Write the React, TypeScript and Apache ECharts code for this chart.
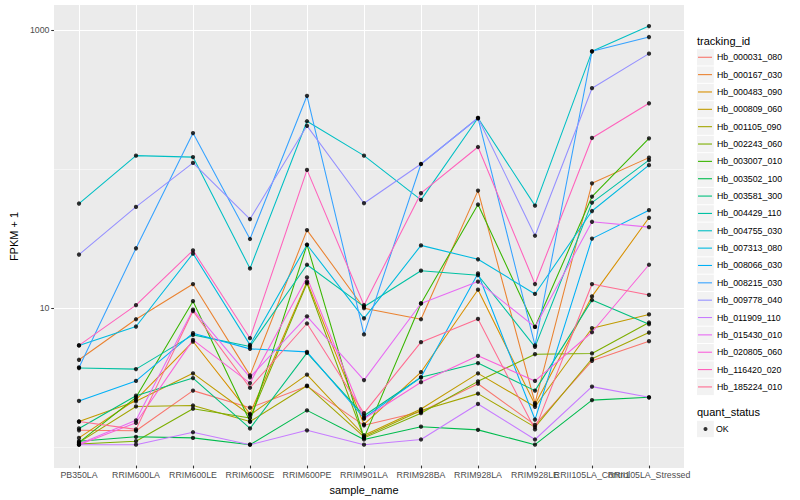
import React, { useEffect, useRef } from 'react';
import * as echarts from 'echarts';

const categories = [
  'PB350LA', 'RRIM600LA', 'RRIM600LE', 'RRIM600SE', 'RRIM600PE', 'RRIM901LA',
  'RRIM928BA', 'RRIM928LA', 'RRIM928LE', 'RRII105LA_Control', 'RRII105LA_Stressed',
];

const trackingIds = [
  'Hb_000031_080', 'Hb_000167_030', 'Hb_000483_090', 'Hb_000809_060', 'Hb_001105_090',
  'Hb_002243_060', 'Hb_003007_010', 'Hb_003502_100', 'Hb_003581_300', 'Hb_004429_110',
  'Hb_004755_030', 'Hb_007313_080', 'Hb_008066_030', 'Hb_008215_030', 'Hb_009778_040',
  'Hb_011909_110', 'Hb_015430_010', 'Hb_020805_060', 'Hb_116420_020', 'Hb_185224_010',
];

const hueColors = [
  '#F8766D', '#EA8331', '#D89000', '#C09B00', '#A3A500', '#7CAE00', '#39B600', '#00BB4E',
  '#00BF7D', '#00C1A3', '#00BFC4', '#00BAE0', '#00B0F6', '#35A2FF', '#9590FF', '#C77CFF',
  '#E76BF3', '#FA62DB', '#FF62BC', '#FF6C91',
];

// FPKM + 1 per sample (order of categories)
const hb000031_080 = [1.27, 1.26, 2.46, 1.85, 2.65, 1.38, 1.73, 2.76, 1.39, 4.04, 5.6];
const hb000167_030 = [4.11, 8.07, 14.5, 3.17, 35.6, 9.7, 8.07, 68.7, 2.0, 77.6, 119];
const hb000483_090 = [1.12, 2.12, 5.57, 1.67, 15.1, 1.4, 3.35, 13.2, 1.95, 11.8, 43.7];
const hb000809_060 = [1.47, 2.06, 3.28, 1.64, 3.21, 1.17, 1.81, 3.28, 1.88, 6.95, 8.75];
const hb001105_090 = [1.04, 1.89, 1.92, 1.47, 2.67, 1.14, 1.77, 2.34, 1.34, 4.18, 6.47];
const hb002243_060 = [1.01, 1.06, 1.82, 1.56, 14.7, 1.12, 1.69, 2.87, 4.51, 4.57, 7.64];
const hb003007_010 = [1.04, 2.2, 10.9, 1.47, 27.9, 1.12, 10.5, 54.5, 7.1, 62.2, 164];
const hb003502_100 = [1.06, 1.14, 1.12, 1.0, 1.77, 1.09, 1.35, 1.28, 1.0, 2.1, 2.2];
const hb003581_300 = [1.31, 2.26, 3.03, 1.31, 4.61, 1.62, 3.07, 3.89, 2.46, 11.1, 7.43];
const hb004429_110 = [3.58, 3.52, 6.22, 5.13, 20.0, 9.95, 18.1, 16.8, 5.1, 56.3, 114];
const hb004755_030 = [55.4, 123, 120, 18.8, 218, 123, 58.9, 230, 53.5, 698, 1063];
const hb007313_080 = [5.22, 7.15, 24.1, 5.27, 27.9, 8.2, 27.6, 21.9, 12.3, 48.9, 105];
const hb008066_030 = [2.07, 2.89, 6.4, 4.93, 4.69, 1.56, 3.07, 17.3, 1.52, 30.9, 49.6];
const hb008215_030 = [3.62, 26.3, 179, 30.7, 333, 6.27, 107, 230, 5.22, 698, 886];
const hb009778_040 = [23.7, 52.4, 109, 42.8, 202, 55.7, 107, 230, 32.4, 378, 672];
const hb011909_110 = [1.0, 1.0, 1.23, 1.0, 1.27, 1.0, 1.09, 1.97, 1.09, 2.63, 2.2];
const hb015430_010 = [1.01, 1.5, 9.47, 3.07, 8.47, 2.93, 10.5, 15.1, 7.1, 40.9, 37.4];
const hb020805_060 = [1.0, 1.44, 5.73, 2.79, 16.2, 1.54, 2.83, 4.39, 2.89, 6.5, 20.0];
const hb116420_020 = [5.22, 10.2, 25.4, 5.89, 97, 10.2, 65.8, 142, 14.5, 165, 294];
const hb185224_010 = [1.47, 1.29, 9.25, 2.58, 7.52, 1.69, 5.51, 8.11, 1.29, 14.5, 12.1];

const seriesValues = [
  hb000031_080, hb000167_030, hb000483_090, hb000809_060, hb001105_090,
  hb002243_060, hb003007_010, hb003502_100, hb003581_300, hb004429_110,
  hb004755_030, hb007313_080, hb008066_030, hb008215_030, hb009778_040,
  hb011909_110, hb015430_010, hb020805_060, hb116420_020, hb185224_010,
];

const quantStatus = ['OK'];
const yMajorTicks = [10, 1000];
const yMinorTicks = [1, 100];
const yMin = 0.706;
const yMax = 1510;

const FONT = '"Liberation Sans", Arial, Helvetica, sans-serif';

export default function App() {
  const ref = useRef<HTMLDivElement>(null);

  useEffect(() => {
    if (!ref.current) return;
    const chart = echarts.init(ref.current, undefined, { renderer: 'svg' });

    const lineSeries = trackingIds.map((id, k) => ({
      type: 'line',
      name: id,
      xAxisIndex: 0,
      yAxisIndex: 0,
      data: seriesValues[k],
      symbol: 'none',
      showSymbol: false,
      silent: true,
      lineStyle: { color: hueColors[k], width: 1.07 },
      itemStyle: { color: hueColors[k] },
      z: 2,
    }));

    const points: [number, number][] = [];
    seriesValues.forEach((vals) => vals.forEach((v, i) => points.push([i, v])));

    const pointSeries = {
      type: 'scatter',
      name: quantStatus[0],
      xAxisIndex: 0,
      yAxisIndex: 0,
      data: points,
      symbol: 'circle',
      symbolSize: 4.3,
      silent: true,
      itemStyle: { color: '#000000' },
      z: 3,
    };

    const legendTop = 48.6;
    const legendStep = 17.35;
    const keyRects = trackingIds.map((_, i) => ({
      type: 'rect',
      shape: { x: 697, y: legendTop + i * legendStep + 0.5, width: 16.8, height: legendStep - 1 },
      style: { fill: '#F2F2F2' },
      silent: true,
    }));

    const option = {
      animation: false,
      backgroundColor: '#FFFFFF',
      textStyle: { fontFamily: FONT },
      grid: [
        { left: 79, right: 151, top: 5, bottom: 32 },
        { left: 45, right: 116, top: 5, bottom: 32, show: true, backgroundColor: '#EBEBEB', borderWidth: 0 },
      ],
      xAxis: [
        {
          type: 'category',
          gridIndex: 0,
          data: categories,
          boundaryGap: false,
          axisLine: { show: false },
          axisTick: { show: true, interval: 0, length: 2.75, lineStyle: { color: '#333333', width: 1.07 } },
          axisLabel: { interval: 0, color: '#4D4D4D', fontSize: 8.8, margin: 4.5, fontFamily: FONT },
          splitLine: { show: true, interval: 0, lineStyle: { color: '#FFFFFF', width: 1.07 } },
          name: 'sample_name',
          nameLocation: 'middle',
          nameGap: 15,
          nameTextStyle: { color: '#000000', fontSize: 11, fontFamily: FONT },
        },
        { type: 'value', gridIndex: 1, show: false, min: 0, max: 1 },
      ],
      yAxis: [
        { type: 'log', gridIndex: 0, min: yMin, max: yMax, show: false },
        {
          type: 'log',
          gridIndex: 1,
          min: yMin,
          max: yMax,
          position: 'left',
          axisLine: { show: false },
          axisTick: { show: true, customValues: yMajorTicks, length: 2.75, lineStyle: { color: '#333333', width: 1.07 } },
          axisLabel: {
            customValues: yMajorTicks,
            color: '#4D4D4D',
            fontSize: 8.8,
            margin: 4.5,
            fontFamily: FONT,
            formatter: (v: number) => String(Math.round(v)),
          },
          splitLine: { show: true, lineStyle: { color: '#FFFFFF', width: 1.07 } },
          name: 'FPKM + 1',
          nameLocation: 'middle',
          nameGap: 27,
          nameRotate: 90,
          nameTextStyle: { color: '#000000', fontSize: 11, fontFamily: FONT },
        },
        {
          type: 'log',
          gridIndex: 1,
          min: yMin,
          max: yMax,
          position: 'left',
          axisLine: { show: false },
          axisTick: { show: false, customValues: yMinorTicks },
          axisLabel: { show: false, customValues: yMinorTicks },
          splitLine: { show: true, lineStyle: { color: '#FFFFFF', width: 0.53 } },
        },
      ],
      legend: [
        {
          orient: 'vertical',
          left: 698,
          top: legendTop,
          padding: 0,
          itemWidth: 14,
          itemHeight: 1.1,
          itemGap: 0,
          selectedMode: false,
          icon: 'rect',
          data: trackingIds.map((id, k) => ({ name: id, icon: 'rect', itemStyle: { color: hueColors[k], borderWidth: 0 } })),
          textStyle: { fontSize: 8.8, color: '#000000', fontFamily: FONT, lineHeight: legendStep },
        },
        {
          orient: 'vertical',
          left: 703.5,
          top: 420.3,
          padding: 0,
          itemWidth: 4,
          itemHeight: 4,
          itemGap: 0,
          selectedMode: false,
          data: [{ name: quantStatus[0], icon: 'circle', itemStyle: { color: '#000000' } }],
          textStyle: { fontSize: 8.8, color: '#000000', fontFamily: FONT, lineHeight: legendStep, padding: [0, 0, 0, 3.5] },
        },
      ],
      graphic: [
        ...keyRects,
        {
          type: 'rect',
          shape: { x: 697, y: 420.8, width: 16.8, height: legendStep - 1 },
          style: { fill: '#F2F2F2' },
          silent: true,
        },
        {
          type: 'text',
          x: 697,
          y: 40.7,
          style: { text: 'tracking_id', fontSize: 11, fill: '#000000', fontFamily: FONT, verticalAlign: 'middle', align: 'left' },
          silent: true,
        },
        {
          type: 'text',
          x: 697,
          y: 412,
          style: { text: 'quant_status', fontSize: 11, fill: '#000000', fontFamily: FONT, verticalAlign: 'middle', align: 'left' },
          silent: true,
        },
      ],
      series: [...lineSeries, pointSeries],
    };

    chart.setOption(option as any);
    return () => chart.dispose();
  }, []);

  return (
    <div
      ref={ref}
      style={{ position: 'fixed', left: 0, top: 0, width: 800, height: 500 }}
    />
  );
}
